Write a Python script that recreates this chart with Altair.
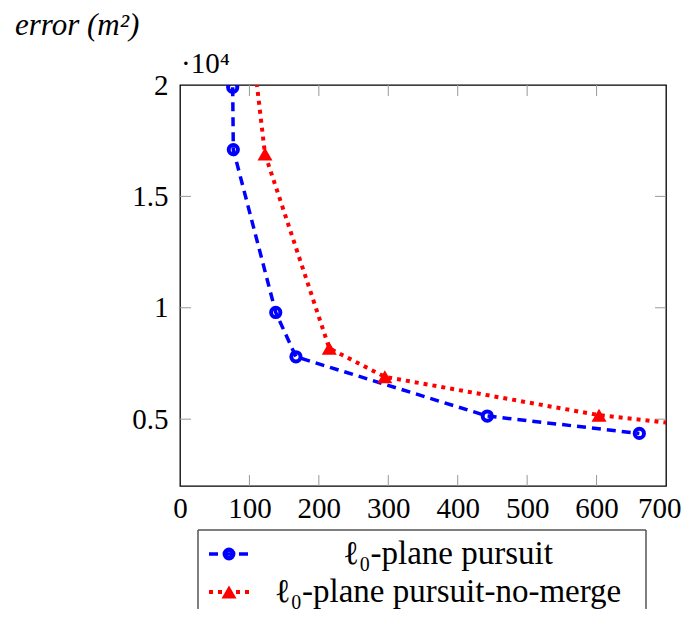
import altair as alt
import pandas as pd

# ---- data (error in units of 10^4 m^2) ----
blue_x = [75.9, 76.8, 137.9, 167.0, 442.6, 661.6]
blue_y = [1.99, 1.71, 0.979, 0.78, 0.514, 0.436]
red_x = [100.0, 122.4, 215.0, 295.0, 603.5, 800.0]
red_y = [2.29, 1.69, 0.818, 0.69, 0.518, 0.45]
x_ticks = [0, 100, 200, 300, 400, 500, 600, 700]
y_ticks = [0.5, 1, 1.5, 2]
x_inner_ticks = [100, 200, 300, 400, 500, 600]
y_inner_ticks = [0.5, 1, 1.5]
series = ["ℓ₀-plane pursuit", "ℓ₀-plane pursuit-no-merge"]
y_title = "error (m²)"
scale_note = "·10⁴"

W, H = 486, 401
FONT = "Liberation Serif"
FS = 29
BLUE = "#0000ff"
RED = "#ff0000"

blue = pd.DataFrame({"x": blue_x, "y": blue_y, "i": list(range(len(blue_x)))})
red = pd.DataFrame({"x": red_x, "y": red_y, "i": list(range(len(red_x)))})

xs = alt.Scale(domain=[0, 700], nice=False, zero=False)
ys = alt.Scale(domain=[0.2, 2], nice=False, zero=False)

x_axis = alt.Axis(values=x_ticks, title=None, tickSize=0, domain=False, grid=False,
                  labelFont=FONT, labelFontSize=FS, labelColor="black", labelPadding=8,
                  labelFlush=False, labelOverlap=False,
                  labelAlign={"condition": {"test": "datum.value >= 700", "value": "right"}, "value": "center"},
                  labelOffset={"condition": {"test": "datum.value >= 700", "value": 15}, "value": 0})
y_axis = alt.Axis(values=y_ticks, title=None, tickSize=0, domain=False, grid=False, format="~g",
                  labelFont=FONT, labelFontSize=FS, labelColor="black", labelPadding=12,
                  labelOverlap=False)

CIRCLE = 85
CSW = 4
TRI = 225

blue_line = alt.Chart(blue).mark_line(color=BLUE, strokeWidth=3.5, strokeDash=[9, 6], clip=True).encode(
    x=alt.X("x:Q", scale=xs, axis=x_axis),
    y=alt.Y("y:Q", scale=ys, axis=y_axis),
    order="i:Q",
)
blue_pts = alt.Chart(blue).mark_point(shape="circle", filled=False, size=CIRCLE, strokeWidth=CSW,
                                      color=BLUE, opacity=1, clip=True).encode(
    x=alt.X("x:Q", scale=xs), y=alt.Y("y:Q", scale=ys))
red_line = alt.Chart(red).mark_line(color=RED, strokeWidth=4, strokeDash=[4, 5], clip=True).encode(
    x=alt.X("x:Q", scale=xs), y=alt.Y("y:Q", scale=ys), order="i:Q")
red_pts = alt.Chart(red).mark_point(shape="triangle-up", filled=True, size=TRI,
                                    color=RED, opacity=1, clip=True).encode(
    x=alt.X("x:Q", scale=xs), y=alt.Y("y:Q", scale=ys))

TICK_C = "#999999"
TL = 11
xt = pd.DataFrame({"v": x_inner_ticks})
yt = pd.DataFrame({"v": y_inner_ticks})
tick_b = alt.Chart(xt).mark_rule(color=TICK_C, strokeWidth=1).encode(
    x=alt.X("v:Q", scale=xs), y=alt.value(H), y2=alt.value(H - TL))
tick_t = alt.Chart(xt).mark_rule(color=TICK_C, strokeWidth=1).encode(
    x=alt.X("v:Q", scale=xs), y=alt.value(0), y2=alt.value(TL))
tick_l = alt.Chart(yt).mark_rule(color=TICK_C, strokeWidth=1).encode(
    y=alt.Y("v:Q", scale=ys), x=alt.value(0), x2=alt.value(TL))
tick_r = alt.Chart(yt).mark_rule(color=TICK_C, strokeWidth=1).encode(
    y=alt.Y("v:Q", scale=ys), x=alt.value(W), x2=alt.value(W - TL))

title_t = alt.Chart(pd.DataFrame({"t": [y_title]})).mark_text(
    align="left", baseline="alphabetic", font=FONT, fontSize=31, fontStyle="italic", color="black").encode(
    x=alt.value(-165), y=alt.value(-50), text="t:N")
note_t = alt.Chart(pd.DataFrame({"t": [scale_note]})).mark_text(
    align="left", baseline="alphabetic", font=FONT, fontSize=FS, color="black").encode(
    x=alt.value(1), y=alt.value(-12), text="t:N")

# ---- legend ----
BOX_C = "#555555"
box = pd.DataFrame({"k": [0]})
box_top = alt.Chart(box).mark_rule(color=BOX_C, strokeWidth=1.5).encode(
    x=alt.value(18), x2=alt.value(466), y=alt.value(445))
box_l = alt.Chart(box).mark_rule(color=BOX_C, strokeWidth=1.5).encode(
    x=alt.value(18), y=alt.value(445), y2=alt.value(600))
box_r = alt.Chart(box).mark_rule(color=BOX_C, strokeWidth=1.5).encode(
    x=alt.value(466), y=alt.value(445), y2=alt.value(600))

leg_layers = []
row_y = [469, 507]
styles = [
    dict(color=BLUE, strokeWidth=3.5, strokeDash=[9, 6]),
    dict(color=RED, strokeWidth=4, strokeDash=[4, 5]),
]
for k, lab in enumerate(series):
    d = pd.DataFrame({"s": [lab]})
    yy = row_y[k]
    leg_layers.append(alt.Chart(d).mark_rule(**styles[k]).encode(
        x=alt.value(29), x2=alt.value(69), y=alt.value(yy)))
    if k == 0:
        leg_layers.append(alt.Chart(d).mark_point(shape="circle", filled=False, size=70, strokeWidth=4.5,
                                                  color=BLUE, opacity=1).encode(x=alt.value(49), y=alt.value(yy)))
    else:
        leg_layers.append(alt.Chart(d).mark_point(shape="triangle-up", filled=True, size=TRI,
                                                  color=RED, opacity=1).encode(x=alt.value(49), y=alt.value(yy)))
    leg_layers.append(alt.Chart(d).mark_text(align="center", baseline="middle", font=FONT, fontSize=33,
                                             color="black").encode(x=alt.value(268), y=alt.value(yy), text="s:N"))

chart = alt.layer(
    tick_b, tick_t, tick_l, tick_r,
    blue_line, red_line, blue_pts, red_pts,
    title_t, note_t, box_top, box_l, box_r, *leg_layers,
).properties(
    width=W, height=H,
    autosize=alt.AutoSizeParams(type="none"),
    padding={"left": 172, "top": 77, "right": 15, "bottom": 123},
).configure_view(stroke="black", strokeWidth=1.3
).configure_text(font=FONT)

chart.save("out.html", embed_options={"renderer": "svg", "actions": False})
